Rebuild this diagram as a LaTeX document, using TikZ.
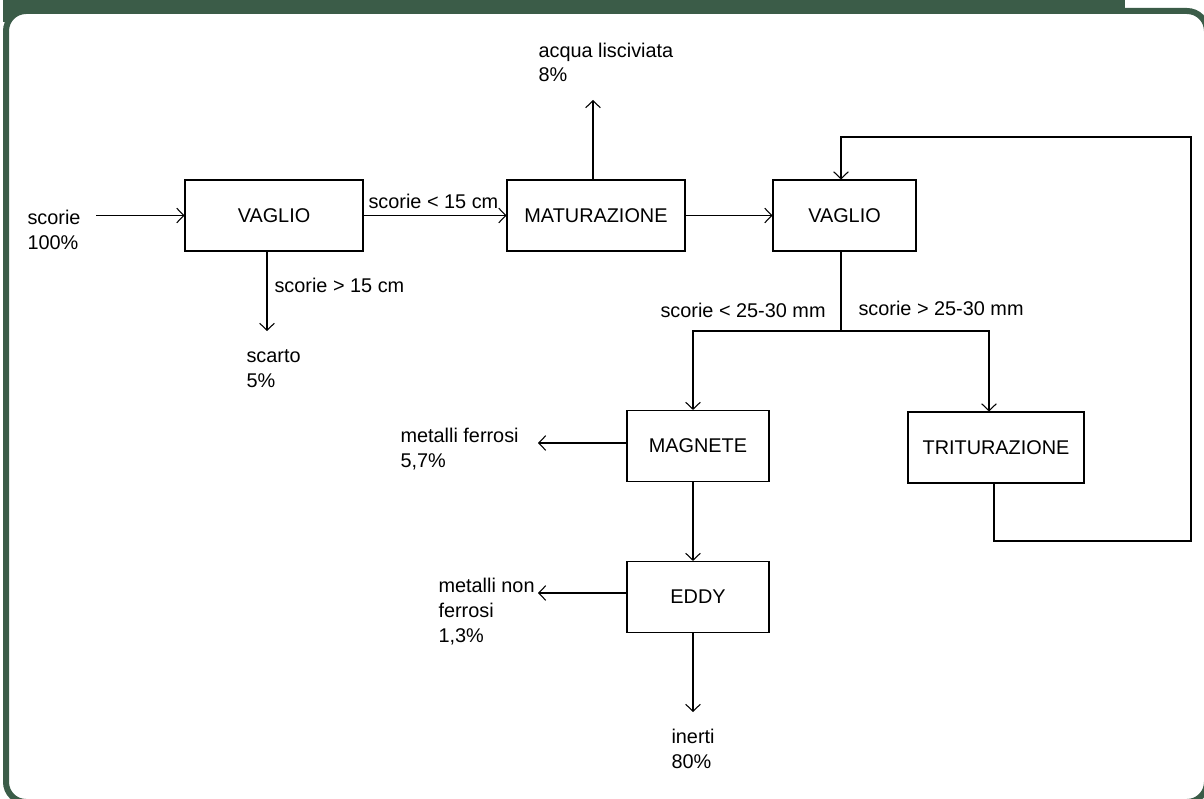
\documentclass[tikz,border=0pt]{standalone}
\usepackage{fontspec}
\setmainfont{Liberation Sans}
\usetikzlibrary{arrows.meta}
\definecolor{framegreen}{RGB}{59,92,72}
\newcommand\dgfont{\fontsize{14.9pt}{18.4pt}\selectfont}
\begin{document}
\begin{tikzpicture}[x=0.75pt,y=-0.75pt,
  line width=0.8pt,
  box/.style={draw,line width=0.8pt,inner sep=0pt,font=\dgfont,minimum height=53.25pt},
  lbl/.style={anchor=base west,align=left,inner sep=0pt,font=\dgfont},
  arr/.style={-{Straight Barb[length=5.25pt,width=11pt]}}]
\useasboundingbox (0,0) rectangle (1204,799);
\clip (0,0) rectangle (1204,799);
% frame
\fill[framegreen] (3,0) rectangle (1125,22);
\draw[framegreen,fill=white,line width=4.5pt,rounded corners=15pt] (6,11) rectangle (1207,802);

% boxes
\node[box,minimum width=133.5pt] (V1) at (274,215.5) {VAGLIO};
\node[box,minimum width=133.5pt] (MAT) at (596,215.5) {MATURAZIONE};
\node[box,minimum width=107.25pt] (V2) at (844.5,215.5) {VAGLIO};
\node[box,minimum width=106.5pt] (MAG) at (698,446) {MAGNETE};
\node[box,minimum width=106.5pt] (EDDY) at (698,597) {EDDY};
\node[box,minimum width=132pt] (TRIT) at (996,447.5) {TRITURAZIONE};

% labels (base = last line baseline)
\node[lbl] (lin) at (27,249) {scorie\\100\%};
\node[lbl] (lscarto) at (246,387) {scarto\\5\%};
\node[lbl] (lgt15) at (274,292) {scorie > 15 cm};
\node[lbl] (llt15) at (368,208) {scorie < 15 cm};
\node[lbl] (lacqua) at (538,82) {acqua lisciviata\\8\%};
\node[lbl] (llt25) at (660,317) {scorie < 25-30 mm};
\node[lbl] (lgt25) at (858,315) {scorie > 25-30 mm};
\node[lbl] (lferr) at (400,467) {metalli ferrosi\\5,7\%};
\node[lbl] (lnonferr) at (438,642) {metalli non\\ferrosi\\1,3\%};
\node[lbl] (linerti) at (671,768) {inerti\\80\%};

% coordinates
\coordinate (inS) at (96,215.5);
\coordinate (scartoE) at (267,331);
\coordinate (acquaE) at (593,100);
\coordinate (split) at (841,331);
\coordinate (magX) at (693,0);
\coordinate (tritX) at (989,0);
\coordinate (loopB) at (994,541);
\coordinate (loopR) at (1191,541);
\coordinate (loopT) at (841,137);
\coordinate (ferrE) at (538,443);
\coordinate (nonferrE) at (538,593);
\coordinate (inertiE) at (693,712);

% connectors
\draw[arr] (inS) -- (V1.west);
\draw[arr] (V1.south -| scartoE) -- (scartoE);
\draw[arr] (V1.east) -- (MAT.west);
\draw[arr] (MAT.north -| acquaE) -- (acquaE);
\draw[arr] (MAT.east) -- (V2.west);
\draw (V2.south -| split) -- (split);
\draw[arr] (split) -| (MAG.north -| magX);
\draw[arr] (split) -| (TRIT.north -| tritX);
\draw[arr] (TRIT.south -| loopB) -- (loopB) -- (loopR) |- (loopT) -- (V2.north -| loopT);
\draw[arr] (MAG.west |- ferrE) -- (ferrE);
\draw[arr] (MAG.south -| magX) -- (EDDY.north -| magX);
\draw[arr] (EDDY.west |- nonferrE) -- (nonferrE);
\draw[arr] (EDDY.south -| magX) -- (inertiE);
\end{tikzpicture}
\end{document}
